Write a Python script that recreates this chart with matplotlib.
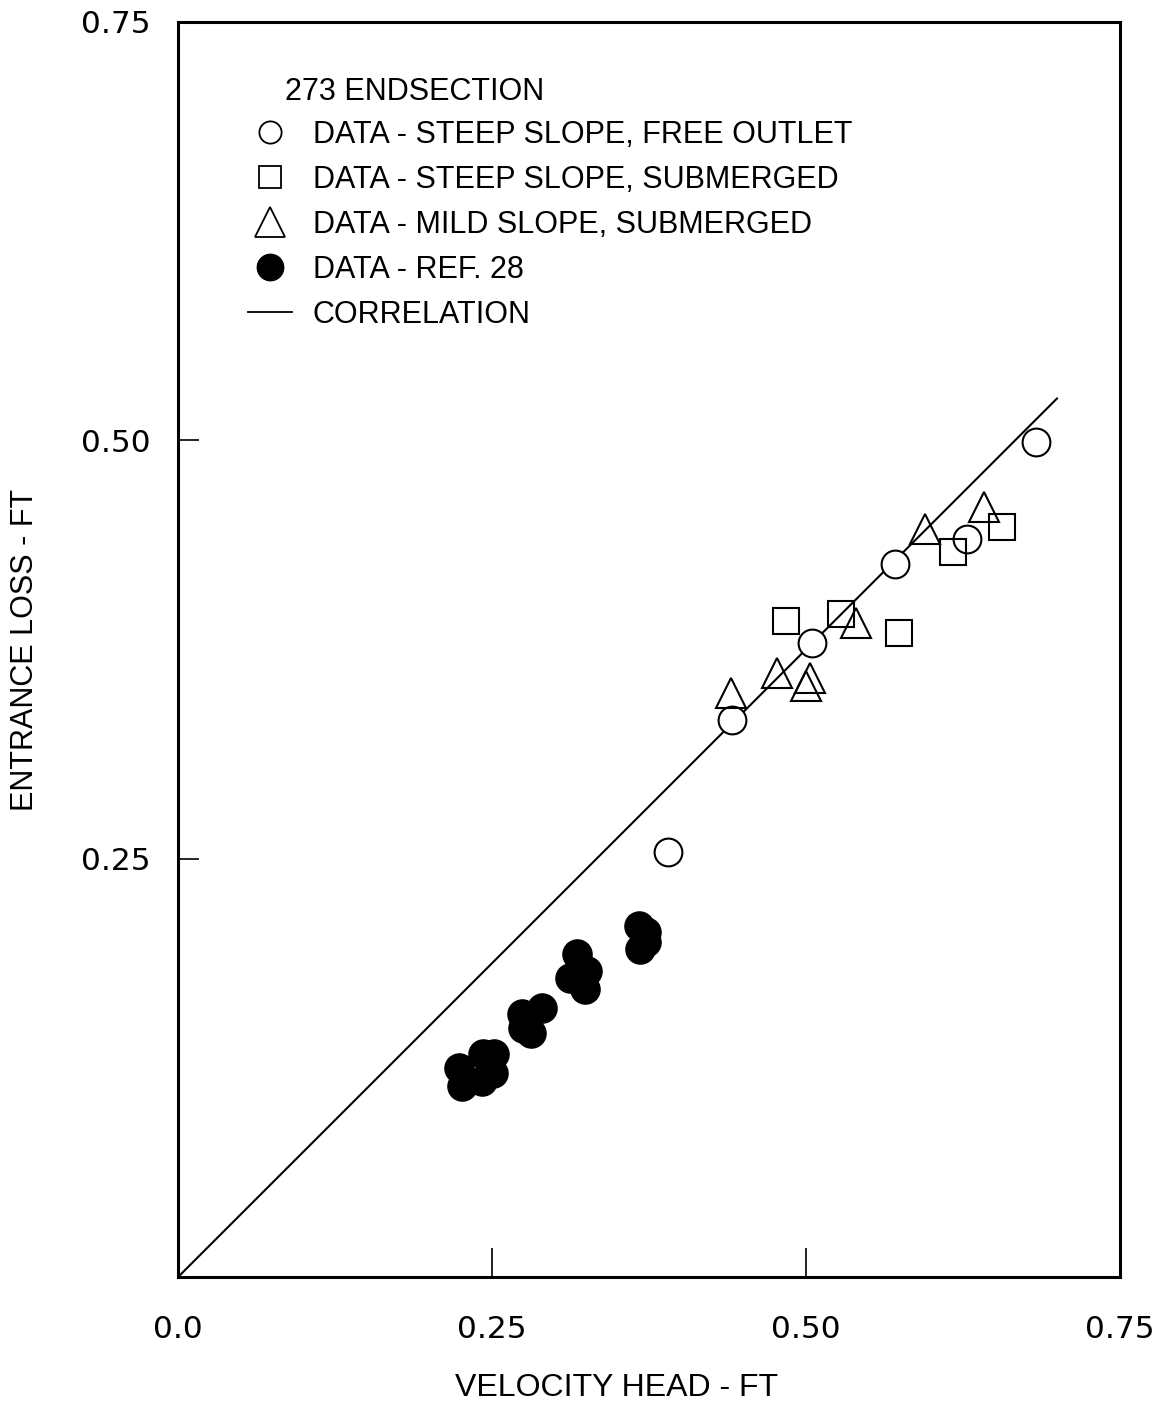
import numpy as np
import matplotlib
matplotlib.use("Agg")
import matplotlib.pyplot as plt
from matplotlib.lines import Line2D

plt.rcParams['font.family'] = ['Liberation Sans', 'DejaVu Sans']

# steep slope, free outlet
free_x = [0.683, 0.628, 0.571, 0.505, 0.441, 0.390]
free_y = [0.499, 0.441, 0.426, 0.379, 0.333, 0.254]

# steep slope, submerged
subm_x = [0.656, 0.617, 0.528, 0.484, 0.574]
subm_y = [0.448, 0.433, 0.396, 0.392, 0.385]

# mild slope, submerged
mild_x = [0.642, 0.595, 0.540, 0.477, 0.503, 0.500, 0.440]
mild_y = [0.460, 0.447, 0.391, 0.361, 0.358, 0.353, 0.349]

# ref. 28
ref_x = [0.224, 0.226, 0.243, 0.252, 0.242, 0.251,
         0.274, 0.290, 0.281, 0.275,
         0.318, 0.312, 0.326, 0.324,
         0.367, 0.373, 0.368, 0.373]
ref_y = [0.125, 0.114, 0.133, 0.133, 0.117, 0.122,
         0.157, 0.161, 0.146, 0.149,
         0.193, 0.179, 0.183, 0.172,
         0.210, 0.206, 0.196, 0.200]

# correlation line
corr_x = np.array([0.0, 0.70])
corr_y = 0.75 * corr_x

fig = plt.figure(figsize=(11.75, 14.08), dpi=100)
ax = fig.add_axes([0.1515, 0.093, 0.8015, 0.8914])

ax.plot(corr_x, corr_y, 'k-', lw=1.5)
ax.plot(free_x, free_y, 'o', ms=20, mfc='white', mec='k', mew=1.5, ls='none')
ax.plot(subm_x, subm_y, 's', ms=19, mfc='none', mec='k', mew=1.5, ls='none')
ax.plot(mild_x, mild_y, '^', ms=22, mfc='none', mec='k', mew=1.5, ls='none')
ax.plot(ref_x, ref_y, 'o', ms=21, mfc='k', mec='k', ls='none')

ax.set_xlim(0, 0.75)
ax.set_ylim(0, 0.75)
ax.set_xticks([0.0, 0.25, 0.50, 0.75])
ax.set_xticklabels(['0.0', '0.25', '0.50', '0.75'])
ax.set_yticks([0.25, 0.50, 0.75])
ax.set_yticklabels(['0.25', '0.50', '0.75'])
ax.tick_params(axis='x', direction='in', length=21, width=1.2, pad=27)
ax.tick_params(axis='y', direction='in', length=15, width=1.2, pad=20)
for lbl in ax.get_xticklabels() + ax.get_yticklabels():
    lbl.set_fontfamily('DejaVu Sans')
    lbl.set_fontsize(22.5)
for s in ax.spines.values():
    s.set_linewidth(2.2)

ax.set_xlabel('VELOCITY HEAD - FT', fontsize=23, va='center')
ax.set_ylabel('ENTRANCE LOSS - FT', fontsize=22, va='center')
ax.xaxis.set_label_coords(0.466, -0.0884)
ax.yaxis.set_label_coords(-0.1624, 0.5)

ax.text(0.1136, 0.9440, '273 ENDSECTION', fontsize=22, va='center', ha='left',
        transform=ax.transAxes)

handles = [
    Line2D([], [], marker='o', ls='none', ms=16, mfc='none', mec='k', mew=1.3),
    Line2D([], [], marker='s', ls='none', ms=16, mfc='none', mec='k', mew=1.3),
    Line2D([], [], marker='^', ls='none', ms=21, mfc='none', mec='k', mew=1.3),
    Line2D([], [], marker='o', ls='none', ms=19, mfc='k', mec='k'),
    Line2D([], [], color='k', lw=1.3),
]
labels = ['DATA - STEEP SLOPE, FREE OUTLET',
          'DATA - STEEP SLOPE, SUBMERGED',
          'DATA - MILD SLOPE, SUBMERGED',
          'DATA - REF. 28',
          'CORRELATION']
ax.legend(handles, labels, loc='upper left', bbox_to_anchor=(0.074, 0.922),
          frameon=False, fontsize=22, borderpad=0, borderaxespad=0,
          handlelength=1.44, handletextpad=0.69, labelspacing=0.49)

fig.savefig('out.png', dpi=100)
